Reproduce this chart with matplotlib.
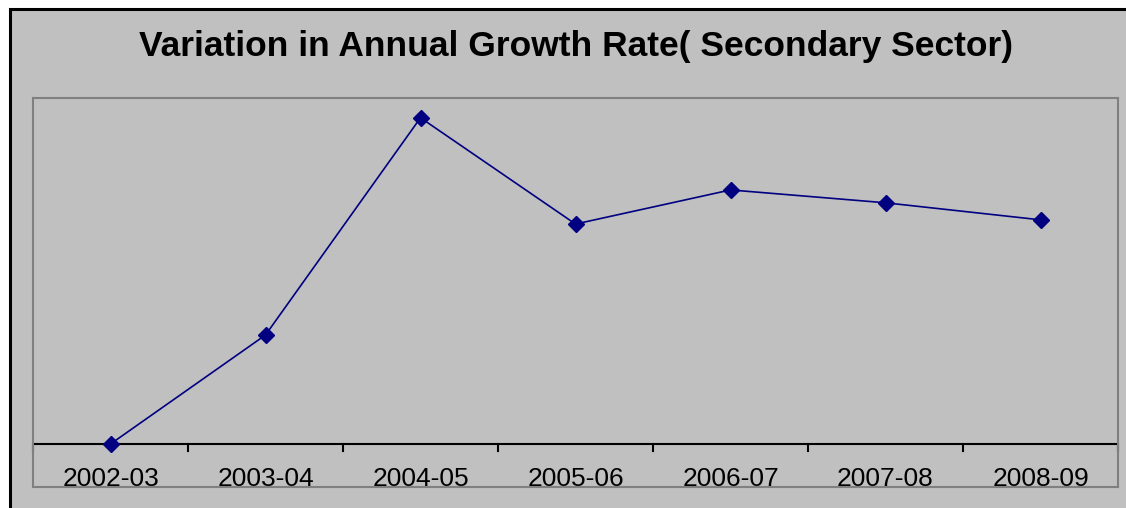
import matplotlib.pyplot as plt
from matplotlib.patches import Rectangle

years = ['2002-03', '2003-04', '2004-05', '2005-06', '2006-07', '2007-08', '2008-09']
growth_var = [0.0, 4.41, 13.2, 8.9, 10.28, 9.76, 9.07]

W, H = 1126, 508
fig = plt.figure(figsize=(W / 100, H / 100), dpi=100)
fig.patch.set_facecolor('white')

# grey chart area with a heavy black edge on the top and left
fig.patches.append(Rectangle((9.5 / W, -0.1), 1.2, 1.1 - 9.5 / H, transform=fig.transFigure,
                             facecolor='#c0c0c0', edgecolor='black', linewidth=2.2,
                             zorder=-5))

ax = fig.add_axes([33 / W, 1 - 487 / H, (1118 - 33) / W, (487 - 98) / H])
ax.set_facecolor('#c0c0c0')
for s in ax.spines.values():
    s.set_color('#808080')
    s.set_linewidth(1.5)

x = range(len(years))
ax.plot(x, growth_var, color='#000080', lw=1.2, marker='D', ms=8,
        markerfacecolor='#000080', markeredgecolor='#000080', zorder=3)

ax.set_xlim(-0.5, len(years) - 0.5)
ax.set_ylim(-1.74, 14.0)

# category axis sits on zero with ticks between the categories
ax.axhline(0, color='black', lw=1.5, zorder=2)
for b in [i - 0.5 for i in range(len(years) + 1)]:
    ax.plot([b, b], [0, -0.3], color='black', lw=1.5, clip_on=False, zorder=2)
for i, lab in enumerate(years):
    ax.text(i, -1.4, lab, ha='center', va='center', fontsize=19,
            family='Liberation Sans')

ax.set_xticks([])
ax.set_yticks([])

fig.text(576 / W, 1 - 46 / H, 'Variation in Annual Growth Rate( Secondary Sector)',
         ha='center', va='center', fontsize=25.5, fontweight='bold',
         family='Liberation Sans')

fig.savefig('out.png', dpi=100)
